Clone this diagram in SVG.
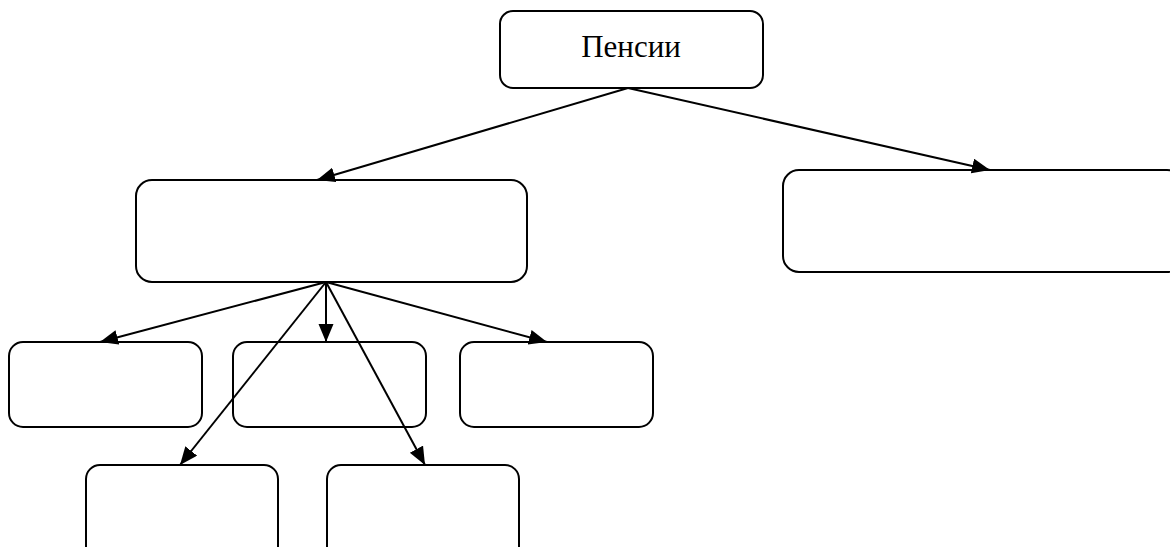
<svg xmlns="http://www.w3.org/2000/svg" width="1170" height="547" viewBox="0 0 1170 547">
<style>
.node{fill:none;stroke:#000;stroke-width:2}
.conn{stroke:#000;stroke-width:2;fill:none;marker-end:url(#ah)}
.lbl{font-family:"Liberation Serif","Times New Roman",serif;font-size:31px;fill:#000}
</style>
<defs>
<marker id="ah" markerUnits="userSpaceOnUse" markerWidth="20" markerHeight="16" refX="18" refY="7.5" orient="auto">
<path d="M0,0 L18,7.5 L0,15 z" fill="#000"/>
</marker>
</defs>
<rect width="1170" height="547" fill="#fff"/>
<g id="n-pensii">
<rect class="node" x="500" y="11" width="263" height="77" rx="13"/>
<text class="lbl" x="631" y="57" text-anchor="middle">Пенсии</text>
</g>
<g id="n-left"><rect class="node" x="136" y="180" width="391" height="102" rx="16"/></g>
<g id="n-right"><rect class="node" x="783" y="170" width="400" height="102" rx="16"/></g>
<g id="n-a"><rect class="node" x="9" y="342" width="193" height="85" rx="14"/></g>
<g id="n-b"><rect class="node" x="233" y="342" width="193" height="85" rx="14"/></g>
<g id="n-c"><rect class="node" x="460" y="342" width="193" height="85" rx="14"/></g>
<g id="n-d"><rect class="node" x="86" y="465" width="192" height="100" rx="14"/></g>
<g id="n-e"><rect class="node" x="327" y="465" width="192" height="100" rx="14"/></g>
<g id="connectors">
<line class="conn" x1="628" y1="88" x2="317" y2="180"/>
<line class="conn" x1="628" y1="88" x2="990" y2="170"/>
<line class="conn" x1="326" y1="282" x2="100" y2="342"/>
<line class="conn" x1="326" y1="282" x2="326" y2="342"/>
<line class="conn" x1="326" y1="282" x2="547" y2="342"/>
<line class="conn" x1="326" y1="282" x2="180" y2="465"/>
<line class="conn" x1="326" y1="282" x2="425" y2="465"/>
</g>
</svg>
